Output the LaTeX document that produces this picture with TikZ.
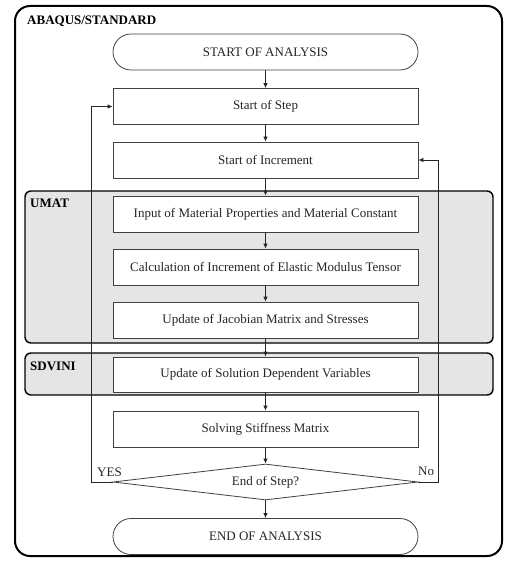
\documentclass[tikz,border=0pt]{standalone}
\usepackage{fontspec}
\setmainfont{Liberation Serif}
\usetikzlibrary{shapes.geometric,arrows.meta}
\begin{document}
\begin{tikzpicture}[x=1pt,y=-1pt,
 txt/.style={font=\fontsize{13}{15}\selectfont, text=black!85},
 box/.style={txt, draw=black!75, line width=0.8pt, fill=white, minimum width=305pt, minimum height=36pt, inner sep=0pt},
 term/.style={box, rounded corners=18pt},
 dec/.style={txt, diamond, draw=black!75, line width=0.8pt, fill=white, minimum width=305pt, minimum height=36pt, inner sep=0pt, aspect=8.5},
 arr/.style={-{Latex[length=5pt,width=4.5pt]}, line width=0.8pt, draw=black!85},
 grp/.style={draw=black, line width=1.4pt, fill=black!10, rounded corners=6pt},
 lbl/.style={font=\bfseries\fontsize{13}{15}\selectfont, anchor=west, inner sep=0pt},
 yn/.style={txt, anchor=west, inner sep=0pt}]
\useasboundingbox (0,0) rectangle (504,561);
\draw[line width=2pt, rounded corners=15pt] (15,6) rectangle (502,556);
\node[lbl] (abq) at (27,21) {ABAQUS/STANDARD};
\draw[grp] (25,191) rectangle (493,343);
\draw[grp] (25,353) rectangle (493,395);
\node[lbl] (umatl) at (30,203) {UMAT};
\node[lbl] (sdvl) at (30,366) {SDVINI};

\node[term] (start) at (265.5,52) {START OF ANALYSIS};
\node[box] (step) at (265.5,106.5) {Start of Step};
\node[box] (inc) at (265.5,160) {Start of Increment};
\node[box] (inp) at (265.5,214) {Input of Material Properties and Material Constant};
\node[box] (calc) at (265.5,267) {Calculation of Increment of Elastic Modulus Tensor};
\node[box] (jac) at (265.5,320) {Update of Jacobian Matrix and Stresses};
\node[box, minimum height=35pt] (sdv) at (265.5,374.5) {Update of Solution Dependent Variables};
\node[box] (solve) at (265.5,429) {Solving Stiffness Matrix};
\node[dec] (endq) at (265.5,482) {End of Step?};
\node[term] (fin) at (265.5,536.5) {END OF ANALYSIS};

\draw[arr] (start) -- (step);
\draw[arr] (step) -- (inc);
\draw[arr] (inc) -- (inp);
\draw[arr] (inp) -- (calc);
\draw[arr] (calc) -- (jac);
\draw[arr] (jac) -- (sdv);
\draw[arr] (sdv) -- (solve);
\draw[arr] (solve) -- (endq);
\draw[arr] (endq) -- (fin);
\draw[arr] (endq.west) -- ++(-21,0) |- (step.west);
\draw[arr] (endq.east) -- ++(20,0) |- (inc.east);

\node[yn] (yes) at (97,472) {YES};
\node[yn] (no) at (418,471) {No};
\end{tikzpicture}
\end{document}
